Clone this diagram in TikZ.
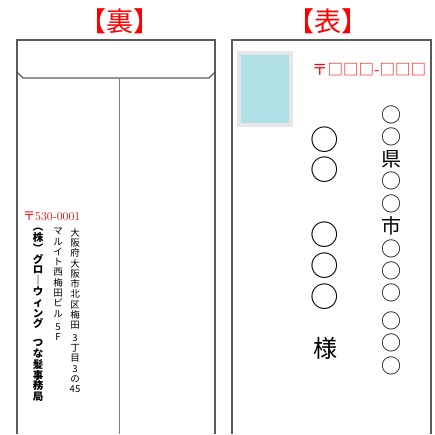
\documentclass[tikz,border=0pt]{standalone}
\usepackage{fontspec}
\newfontfamily\jpfont{Noto Sans CJK JP}
\usetikzlibrary{positioning}
\definecolor{stampblue}{HTML}{B0E0E6}
\definecolor{stampgrey}{HTML}{E6E6E6}
\definecolor{edgegrey}{HTML}{5A5A5A}

\begin{document}
\begin{tikzpicture}[x=1pt,y=-1pt,
	title/.style={text=red,inner sep=0,font=\jpfont\fontsize{27}{27}\selectfont},
	envline/.style={draw=edgegrey,line width=1.3pt},
	tate/.style={align=center,inner sep=0,anchor=north,font=\jpfont\fontsize{9.5}{10.3}\selectfont},
	addr/.style={inner sep=0,font=\jpfont\fontsize{20}{20}\selectfont},
	namecirc/.style={inner sep=0,font=\jpfont\fontsize{28.5}{28.5}\selectfont}]
	\useasboundingbox (0,0) rectangle (435,434);
	\node[title] (ura) at (120,21) {【裏】};
	\node[title] (omote) at (328,21) {【表】};
	\draw[envline] (17,434) -- (17,40) -- (215,40) -- (215,434);
	\draw[envline] (17,72) -- (23,78) -- (209,78) -- (215,72);
	\draw[gray,line width=1pt] (119,78) -- (119,434);
	\node[anchor=west,text=red,inner sep=0,font=\fontsize{12}{12}\selectfont] (zipback) at (23,216) {{\jpfont 〒}530-0001};
	\node[tate] (addrline) at (75,228) {大\\阪\\府\\大\\阪\\市\\北\\区\\梅\\田\\[2pt]3\\丁\\目\\3\\の\\45};
	\node[tate] (building) at (58,228) {マ\\ル\\イ\\ト\\西\\梅\\田\\ビ\\ル\\[3pt]5\\F};
	\node[tate,font=\jpfont\bfseries\fontsize{10.5}{10.8}\selectfont] (sender) at (38,228) {︵\\株\\︶\\グ\\ロ\\｜\\ウ\\ィ\\ン\\グ\\[8pt]つ\\な\\髪\\事\\務\\局};
	\draw[envline] (232,434) -- (232,40) -- (431,40) -- (431,434);
	\fill[stampgrey] (237,51) rectangle (293,127);
	\fill[stampblue] (241,55) rectangle (289,123);
	\node[anchor=west,text=red,inner sep=0,font=\jpfont\fontsize{15.5}{15.5}\selectfont] (zipfront) at (312,70) {〒□□□-□□□};
	\foreach \ch/\y [count=\i] in {○/115,○/137,県/159,○/181,○/204,市/226,○/249,○/271,○/293,○/321,○/343,○/366}
		\node[addr] (addr\i) at (391,\y) {\ch};
	\foreach \y [count=\i] in {140,170,235,266,297}
		\node[namecirc] (name\i) at (325,\y) {○};
	\node[inner sep=0,font=\jpfont\fontsize{24}{24}\selectfont] (sama) at (325,348) {様};
\end{tikzpicture}
\end{document}
